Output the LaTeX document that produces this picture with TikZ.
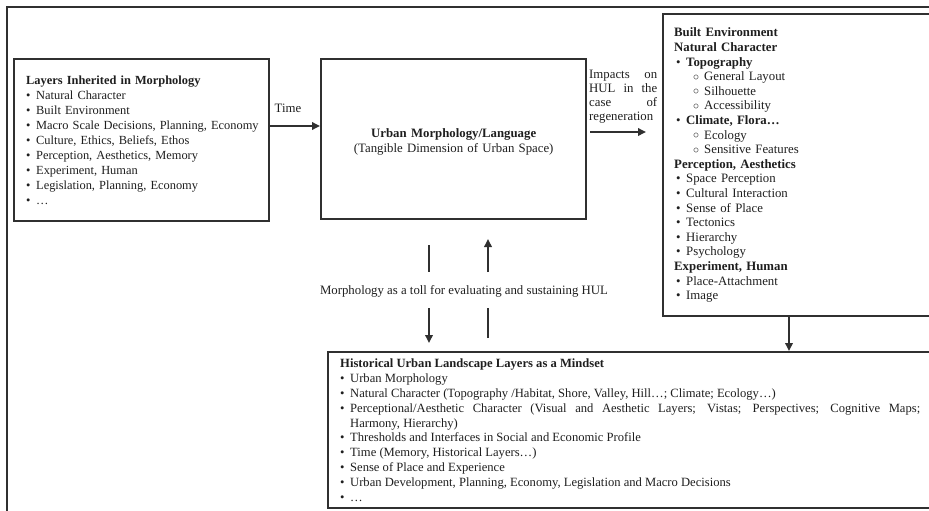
\documentclass[tikz,border=0pt]{standalone}
\usepackage{fontspec}
\setmainfont{Liberation Serif}
\usetikzlibrary{arrows.meta}
\definecolor{ink}{HTML}{1E1E1E}
\definecolor{edge}{HTML}{303030}
\newcommand\bul{\makebox[10pt][l]{\textbullet}}
\newcommand\rbul{\hspace*{2pt}\makebox[10pt][l]{\textbullet}}
\newcommand\rsub{\hspace*{19pt}\makebox[11pt][l]{\raisebox{0.3pt}{$\circ$}}}
\newcommand\bbi{\par\noindent\hangindent=10pt\hangafter=1\makebox[10pt][l]{\textbullet}}
\begin{document}
\begin{tikzpicture}[x=1pt,y=-1pt,
  box/.style={draw=edge, line width=2.4pt, rectangle, inner sep=0pt, text=ink, anchor=north west},
  arr/.style={draw=edge, line width=1.8pt, -{Triangle[length=8pt,width=7.5pt]}},
  seg/.style={draw=edge, line width=1.8pt},
  lbl/.style={text=ink, inner sep=0pt, font=\fontsize{12.8}{14}\selectfont}]
\useasboundingbox (0,0) rectangle (929,511);
\clip (0,0) rectangle (929,511);
% outer frame
\draw[edge, line width=2pt] (940,7) -- (7,7) -- (7,520);

% left box
\node[box, text width=255pt, minimum height=162pt, align=left,
      font=\fontsize{12.4}{15}\selectfont] (inh) at (13,58)
{\leftskip=12pt\relax
\textbf{Layers Inherited in Morphology}\\
\bul Natural Character\\
\bul Built Environment\\
\bul Macro Scale Decisions, Planning, Economy\\
\bul Culture, Ethics, Beliefs, Ethos\\
\bul Perception, Aesthetics, Memory\\
\bul Experiment, Human\\
\bul Legislation, Planning, Economy\\
\bul …\par};

% middle box
\node[box, text width=265pt, minimum height=160pt, align=center,
      font=\fontsize{12.8}{15}\selectfont] (mid) at (320,58)
{\rule{0pt}{13.5pt}\textbf{Urban Morphology/Language}\\
(Tangible Dimension of Urban Space)};

% right box
\node[box, text width=285pt, minimum height=302pt, align=left,
      font=\fontsize{12.8}{14.6}\selectfont] (rb) at (662,13)
{\leftskip=11pt\relax
\textbf{Built Environment}\\
\textbf{Natural Character}\\
\rbul\textbf{Topography}\\
\rsub General Layout\\
\rsub Silhouette\\
\rsub Accessibility\\
\rbul\textbf{Climate, Flora…}\\
\rsub Ecology\\
\rsub Sensitive Features\\
\textbf{Perception, Aesthetics}\\
\rbul Space Perception\\
\rbul Cultural Interaction\\
\rbul Sense of Place\\
\rbul Tectonics\\
\rbul Hierarchy\\
\rbul Psychology\\
\textbf{Experiment, Human}\\
\rbul Place-Attachment\\
\rbul Image\par};

% bottom box
\node[box, text width=620pt, minimum height=156pt, align=justify,
      font=\fontsize{12.6}{14.9}\selectfont] (bb) at (327,351)
{\leftskip=12pt\rightskip=28pt\relax
\noindent\textbf{Historical Urban Landscape Layers as a Mindset}
\bbi Urban Morphology
\bbi Natural Character (Topography /Habitat, Shore, Valley, Hill…; Climate; Ecology…)
\bbi Perceptional/Aesthetic Character (Visual and Aesthetic Layers; Vistas; Perspectives; Cognitive Maps;\linebreak Harmony, Hierarchy)
\bbi Thresholds and Interfaces in Social and Economic Profile
\bbi Time (Memory, Historical Layers…)
\bbi Sense of Place and Experience
\bbi Urban Development, Planning, Economy, Legislation and Macro Decisions
\bbi …\par};

% Time arrow
\coordinate (tY) at (0,126);
\draw[arr] (inh.east |- tY) -- (mid.west |- tY);
\node[lbl] (time) at (288,108) {Time};

% impacts arrow
\node[lbl, anchor=north west, text width=68pt, align=left] (imp) at (589,69.5)
{\makebox[68pt][l]{Impacts\hfill on}\\
\makebox[68pt][l]{HUL\hfill in\hfill the}\\
\makebox[68pt][l]{case\hfill of}\\
regeneration\par};
\coordinate (i1) at (590,132);
\coordinate (i2) at (646,132);
\draw[arr] (i1) -- (i2);

% right box to bottom box
\coordinate (dx) at (789,0);
\draw[arr] (rb.south -| dx) -- (bb.north -| dx);

% morphology tool arrows
\node[lbl] (tool) at (464,291) {Morphology as a toll for evaluating and sustaining HUL};
\coordinate (la) at (429,245);
\coordinate (lb) at (429,272);
\coordinate (lc) at (429,308);
\coordinate (ld) at (429,343);
\coordinate (ra) at (488,239);
\coordinate (rbt) at (488,272);
\coordinate (rc) at (488,308);
\coordinate (rd) at (488,338);
\draw[seg] (la) -- (lb);
\draw[arr] (lc) -- (ld);
\draw[arr] (rbt) -- (ra);
\draw[seg] (rd) -- (rc);
\end{tikzpicture}
\end{document}
